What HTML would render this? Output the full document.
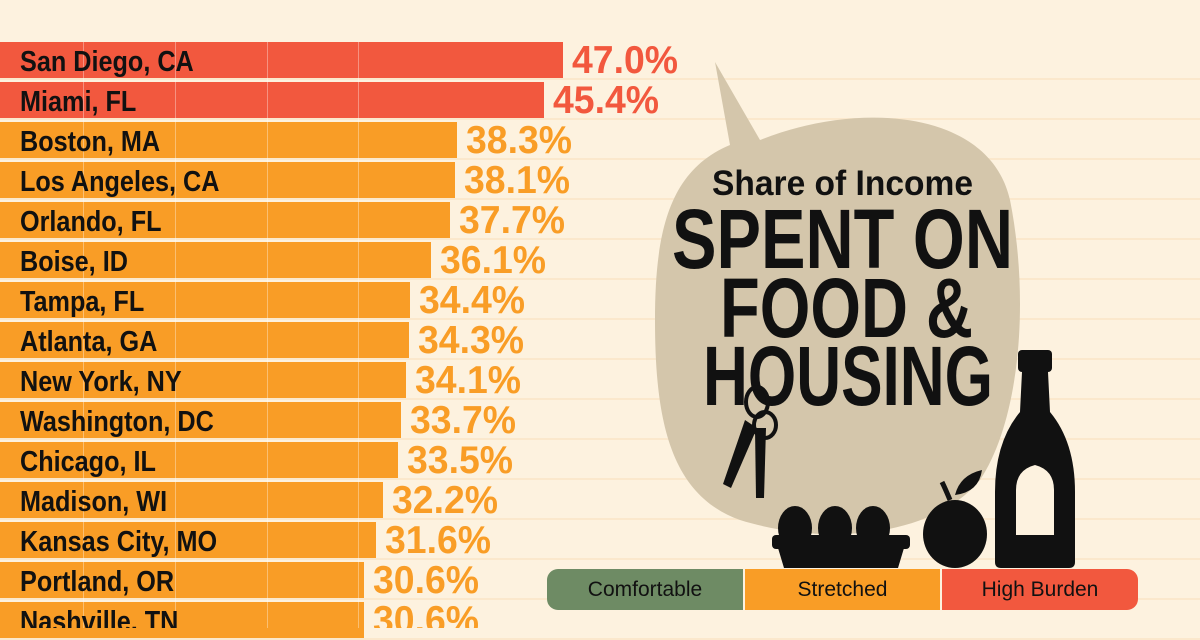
<!DOCTYPE html>
<html><head><meta charset="utf-8"><style>
body{margin:0;width:1200px;height:628px;overflow:hidden;background:#FDF2DF;position:relative;font-family:"Liberation Sans",sans-serif}
.hl{position:absolute;left:0;width:1200px;height:2px;background:#FBE8CC}
.bar{position:absolute;left:0;height:36px}
.vg{position:absolute;top:42px;width:1px;height:586px;background:rgba(255,255,255,0.35)}
</style></head><body>
<div id="rows"></div>
<svg id="sv" style="position:absolute;left:0;top:0" width="1200" height="628" font-family="Liberation Sans, sans-serif" font-weight="bold">
<g id="txt"></g>
<path d="M715 62 L760 140 C860 100 990 110 1010 200 C1030 300 1020 420 980 480 C930 540 820 545 740 520 C670 495 655 420 655 320 C655 230 670 170 730 145 Z" fill="#D4C6AB"/>
<text x="712" y="195" font-size="35" textLength="261" lengthAdjust="spacingAndGlyphs" fill="#111">Share of Income</text>
<text x="672" y="268" font-size="84" textLength="341" lengthAdjust="spacingAndGlyphs" fill="#111">SPENT ON</text>
<text x="720" y="337" font-size="84" textLength="253" lengthAdjust="spacingAndGlyphs" fill="#111">FOOD &amp;</text>
<text x="703" y="405" font-size="84" textLength="290" lengthAdjust="spacingAndGlyphs" fill="#111">HOUSING</text>
<g fill="none" stroke="#111" stroke-width="4"><ellipse cx="757" cy="402" rx="11" ry="15"/><ellipse cx="765" cy="425" rx="11" ry="13"/></g>
<path d="M745 420 l12 8 -26 60 -8 -4z" fill="#111"/><path d="M755 428 l11 0 -2 70 -8 0z" fill="#111"/>
<g fill="#111"><ellipse cx="795" cy="528" rx="17" ry="22"/><ellipse cx="835" cy="528" rx="17" ry="22"/><ellipse cx="873" cy="528" rx="17" ry="22"/>
<rect x="772" y="535" width="138" height="14" rx="4"/><path d="M778 548 h126 l-6 20 h-114z"/>
<ellipse cx="955" cy="534" rx="32" ry="34"/><path d="M950 500 q-5 -12 -8 -18" stroke="#111" stroke-width="5"/><path d="M955 495 q5 -20 27 -25 q-3 22 -27 25z"/>
<rect x="1018" y="350" width="34" height="22" rx="4"/><path d="M1022 372 h26 l2 40 q25 30 25 80 v70 q0 6 -6 6 h-68 q-6 0 -6 -6 v-70 q0 -50 25 -80z"/></g>
<path d="M1016 490 q0 -20 19 -25 q19 5 19 25 v45 h-38z" fill="#FDF2DF"/>
</svg>
<div style="position:absolute;left:547px;top:569px;width:591px;height:41px;border-radius:11px;overflow:hidden;display:flex;font-size:21px;color:#111">
<div style="width:196px;background:#6E8B64;text-align:center;line-height:41px">Comfortable</div>
<div style="width:2px;background:#FDF2DF"></div>
<div style="width:195px;background:#F99D26;text-align:center;line-height:41px">Stretched</div>
<div style="width:2px;background:#FDF2DF"></div>
<div style="flex:1;background:#F2583E;text-align:center;line-height:41px">High Burden</div>
</div>
<script>
var d=[["San Diego, CA","47.0%",563,1],["Miami, FL","45.4%",544,1],["Boston, MA","38.3%",457],["Los Angeles, CA","38.1%",455],["Orlando, FL","37.7%",450],["Boise, ID","36.1%",431],["Tampa, FL","34.4%",410],["Atlanta, GA","34.3%",409],["New York, NY","34.1%",406],["Washington, DC","33.7%",401],["Chicago, IL","33.5%",398],["Madison, WI","32.2%",383],["Kansas City, MO","31.6%",376],["Portland, OR","30.6%",364],["Nashville, TN","30.6%",364]];
var h="",t="";
for(var i=0;i<d.length;i++){var y=41+i*40;var c=d[i][3]?"#F2583E":"#F99D26";
h+='<div class="hl" style="top:'+(y+37)+'px"></div>';
h+='<div class="bar" style="top:'+(y+1)+'px;width:'+d[i][2]+'px;background:'+c+'"></div>';
t+='<text x="20" y="'+(y+30)+'" font-size="29" fill="#111" transform="translate(20 0) scale(0.87 1) translate(-20 0)">'+d[i][0]+'</text>';
t+='<text x="'+(d[i][2]+9)+'" y="'+(y+32)+'" font-size="39" fill="'+c+'" textLength="106" lengthAdjust="spacingAndGlyphs">'+d[i][1]+'</text>';}
[83,175,267,358].forEach(function(x){h+='<div class="vg" style="left:'+x+'px"></div>'});
document.getElementById("rows").innerHTML=h;
document.getElementById("txt").innerHTML=t;
</script>
</body></html>
